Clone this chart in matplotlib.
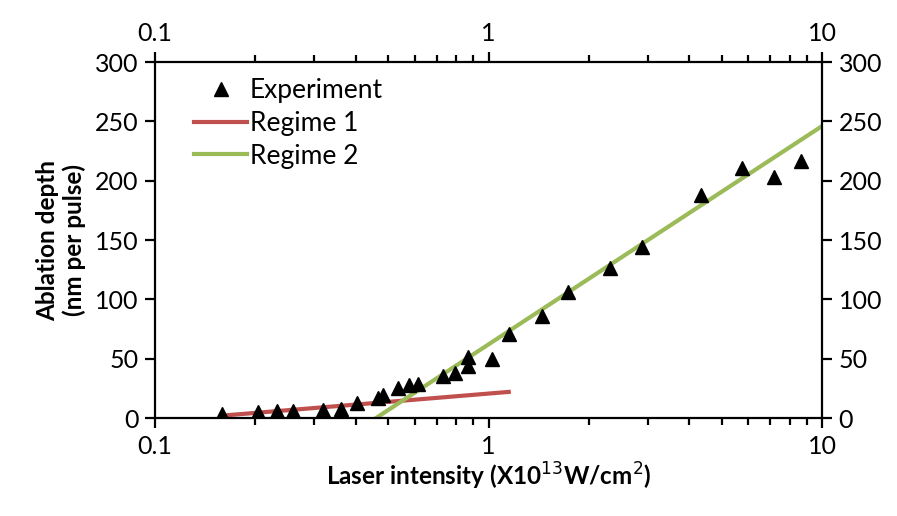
import numpy as np
import matplotlib.pyplot as plt
from matplotlib.ticker import FixedLocator, FuncFormatter, NullFormatter

plt.rcParams['font.family'] = ['Lato', 'DejaVu Sans']

# Experimental data: laser intensity (x1e13 W/cm2) vs ablation depth (nm/pulse)
exp_x = [0.159, 0.204, 0.232, 0.259, 0.319, 0.361, 0.403, 0.467, 0.483, 0.536,
         0.578, 0.615, 0.731, 0.794, 0.868, 0.868, 1.025, 1.152, 1.447, 1.731,
         2.314, 2.886, 4.337, 5.757, 7.179, 8.650]
exp_y = [3, 5, 6, 6, 7, 8, 13, 17, 19, 25,
         28, 29, 35, 38, 44, 51, 50, 71, 86, 106,
         126, 144, 188, 211, 203, 217]

# Fitted regimes (straight lines on the log axis)
reg1_x = [0.159, 1.15]
reg1_y = [2, 22]
reg2_x = [0.46, 10]
reg2_y = [0, 246]

fig = plt.figure(figsize=(8.97, 5.16), dpi=100)
ax = fig.add_axes([0.1728, 0.1899, 0.7436, 0.6899])

ax.plot(exp_x, exp_y, '^', color='black', markersize=10, label='Experiment',
        zorder=3)
ax.plot(reg1_x, reg1_y, color='#C0504D', lw=3, label='Regime 1')
ax.plot(reg2_x, reg2_y, color='#9BBB59', lw=3, label='Regime 2')

ax.set_xscale('log')
ax.set_xlim(0.1, 10)
ax.set_ylim(0, 300)
ax.set_yticks(np.arange(0, 301, 50))
ax.xaxis.set_major_locator(FixedLocator([0.1, 1, 10]))
ax.xaxis.set_major_formatter(FuncFormatter(lambda v, p: '%g' % v))
minors = [m * d for d in (0.1, 1) for m in range(2, 10)]
ax.xaxis.set_minor_locator(FixedLocator(minors))
ax.xaxis.set_minor_formatter(NullFormatter())

for s in ax.spines.values():
    s.set_linewidth(1.6)
ax.tick_params(which='both', direction='out', top=True, right=True,
               labeltop=True, labelright=True, width=1.6, labelsize=18)
ax.tick_params(which='major', length=7, pad=5)
ax.tick_params(which='minor', length=5)

ax.set_xlabel('Laser intensity (X10$^{13}$W/cm$^{2}$)', fontsize=17.5,
              fontweight='bold', labelpad=2)
ax.set_ylabel('Ablation depth\n(nm per pulse)', fontsize=17.5,
              fontweight='bold', labelpad=6)

ax.legend(loc='upper left', bbox_to_anchor=(0.035, 1.0), frameon=False,
          fontsize=19, handlelength=2.0, handletextpad=0.1,
          labelspacing=0.3, borderaxespad=0.2)

fig.savefig('out.png', dpi=100)
